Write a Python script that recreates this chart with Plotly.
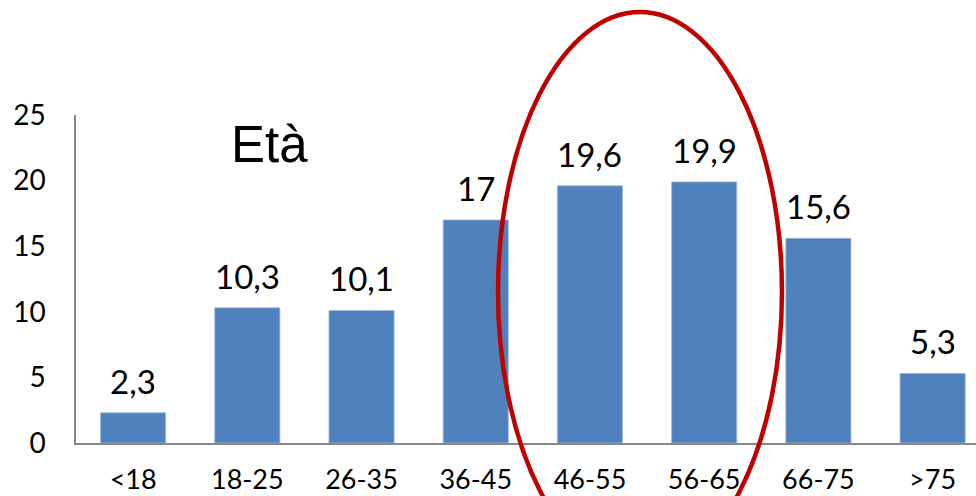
import plotly.graph_objects as go

# Age-group distribution (percent)
categories = ["<18", "18-25", "26-35", "36-45", "46-55", "56-65", "66-75", ">75"]
values = [2.3, 10.3, 10.1, 17, 19.6, 19.9, 15.6, 5.3]
y_ticks = [0, 5, 10, 15, 20, 25]

BAR_COLOR = "#4F81BD"
AXIS_COLOR = "#888888"
FONT = "Lato"

fig = go.Figure()
fig.add_trace(go.Bar(
    x=categories,
    y=values,
    marker=dict(color=BAR_COLOR, line=dict(color="#9DB5DA", width=0.8)),
    hoverinfo="x+y",
))

# Value labels above each bar, Italian decimal comma
for cat, v in zip(categories, values):
    fig.add_annotation(
        x=cat, y=v, xref="x", yref="y",
        text=f"{v:g}".replace(".", ","),
        showarrow=False, yanchor="bottom", yshift=10,
        font=dict(family=FONT, size=33, color="black"),
    )

# Chart heading inside the plot area
fig.add_annotation(
    x=0.215, y=0.91, xref="paper", yref="paper",
    text="Età", showarrow=False, xanchor="center", yanchor="middle",
    font=dict(family="Liberation Sans", size=51, color="black"),
)

# Red ellipse highlighting the two peak age groups
fig.add_shape(
    type="circle", xref="paper", yref="paper",
    x0=0.4689, x1=0.7844, y0=-0.393, y1=1.314,
    line=dict(color="#C00000", width=4.5),
    fillcolor="rgba(0,0,0,0)", layer="above",
)

fig.update_layout(
    width=976, height=496,
    margin=dict(l=76, r=0, t=115, b=53),
    paper_bgcolor="white", plot_bgcolor="white",
    bargap=0.43,
    showlegend=False,
    xaxis=dict(
        type="category",
        range=[-0.5, 7.38],
        automargin=False,
        showline=True, linecolor=AXIS_COLOR, linewidth=1.5,
        showgrid=False, ticks="",
        tickfont=dict(family=FONT, size=27, color="black"),
        ticklabelstandoff=12,
    ),
    yaxis=dict(
        range=[0, 25],
        tickvals=y_ticks,
        automargin=False,
        showline=True, linecolor=AXIS_COLOR, linewidth=1.5,
        showgrid=False, zeroline=False, ticks="",
        tickfont=dict(family=FONT, size=28, color="black"),
        ticklabelstandoff=23,
    ),
)

fig.write_html("out.html")
